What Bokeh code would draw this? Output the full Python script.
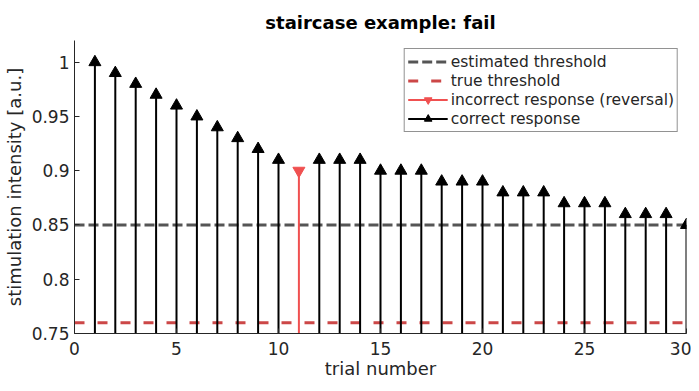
from bokeh.plotting import figure
from bokeh.models import Range1d, Legend, LegendItem, FixedTicker, ColumnDataSource
from bokeh.embed import file_html
from bokeh.resources import INLINE

trials_correct = [1, 2, 3, 4, 5, 6, 7, 8, 9, 10, 12, 13, 14, 15, 16, 17, 18, 19, 20,
                  21, 22, 23, 24, 25, 26, 27, 28, 29, 30]
values_correct = [1.00, 0.99, 0.98, 0.97, 0.96, 0.95, 0.94, 0.93, 0.92, 0.91,
                  0.91, 0.91, 0.91, 0.90, 0.90, 0.90, 0.89, 0.89, 0.89,
                  0.88, 0.88, 0.88, 0.87, 0.87, 0.87, 0.86, 0.86, 0.86, 0.85]
trials_incorrect = [11]
values_incorrect = [0.90]
estimated_threshold = 0.85
true_threshold = 0.76
x_limits = [0, 30]
y_limits = [0.75, 1.02]
x_ticks = [0, 5, 10, 15, 20, 25, 30]
y_ticks = [0.75, 0.8, 0.85, 0.9, 0.95, 1.0]

FONT = "DejaVu Sans"
TXT = "#262626"

p = figure(width=691, height=383, output_backend="svg", toolbar_location=None,
           x_range=Range1d(*x_limits), y_range=Range1d(*y_limits),
           min_border_left=73, min_border_right=5, min_border_top=40, min_border_bottom=50)

p.title.text = "staircase example: fail"
p.title.align = "center"
p.title.text_font = FONT
p.title.text_font_size = "18px"
p.title.text_font_style = "bold"
p.title.text_color = "#000000"
p.title.standoff = 16

p.outline_line_color = None
p.xgrid.grid_line_color = None
p.ygrid.grid_line_color = None

for ax in (p.xaxis[0], p.yaxis[0]):
    ax.axis_line_color = "#262626"
    ax.major_tick_line_color = "#262626"
    ax.major_tick_in = 5
    ax.major_tick_out = 0
    ax.minor_tick_line_color = None
    ax.major_label_text_font = FONT
    ax.major_label_text_font_size = "17px"
    ax.major_label_text_color = TXT
    ax.axis_label_text_font = FONT
    ax.axis_label_text_font_size = "18px"
    ax.axis_label_text_font_style = "normal"
    ax.axis_label_text_color = TXT

p.xaxis.ticker = FixedTicker(ticks=x_ticks)
p.yaxis.ticker = FixedTicker(ticks=y_ticks)
p.yaxis.major_label_overrides = {0.75: "0.75", 0.8: "0.8", 0.85: "0.85", 0.9: "0.9", 0.95: "0.95", 1.0: "1"}
p.xaxis.axis_label = "trial number"
p.yaxis.axis_label = "stimulation intensity [a.u.]"
p.xaxis.axis_label_standoff = 0
p.yaxis.axis_label_standoff = 4
p.xaxis.major_label_standoff = 8

src_c = ColumnDataSource(dict(x=trials_correct, y=values_correct, y0=[0] * len(trials_correct)))
src_i = ColumnDataSource(dict(x=trials_incorrect, y=values_incorrect, y0=[0] * len(trials_incorrect)))

# threshold lines
r_est = p.line(x=x_limits, y=[estimated_threshold] * 2, line_color="#555555",
               line_width=3, line_dash="10 4")
r_true = p.line(x=x_limits, y=[true_threshold] * 2, line_color="#cc4747",
                line_width=3, line_dash="10 13")

# stems
r_cs = p.segment(x0="x", y0="y0", x1="x", y1="y", source=src_c, line_color="black", line_width=2)
r_cm = p.scatter(x="x", y="y", source=src_c, marker="triangle", size=12,
                 fill_color="black", line_color="black")
r_is = p.segment(x0="x", y0="y0", x1="x", y1="y", source=src_i, line_color="#f05050", line_width=2)
r_im = p.scatter(x="x", y="y", source=src_i, marker="inverted_triangle", size=12,
                 fill_color="#f05050", line_color="#f05050")

legend = Legend(items=[
    LegendItem(label="estimated threshold", renderers=[r_est]),
    LegendItem(label="true threshold", renderers=[r_true]),
    LegendItem(label="incorrect response (reversal)", renderers=[r_is, r_im]),
    LegendItem(label="correct response", renderers=[r_cs, r_cm]),
], location="top_right")
legend.label_text_font = FONT
legend.label_text_font_size = "15.5px"
legend.label_text_color = TXT
legend.label_standoff = 3
legend.label_height = 19
legend.glyph_height = 19
legend.glyph_width = 40
legend.spacing = 0
legend.padding = 3
legend.margin = 8
legend.border_line_color = "#262626"
legend.border_line_width = 1
legend.background_fill_alpha = 1
p.add_layout(legend)

open("out.html", "w").write(file_html(p, INLINE))
